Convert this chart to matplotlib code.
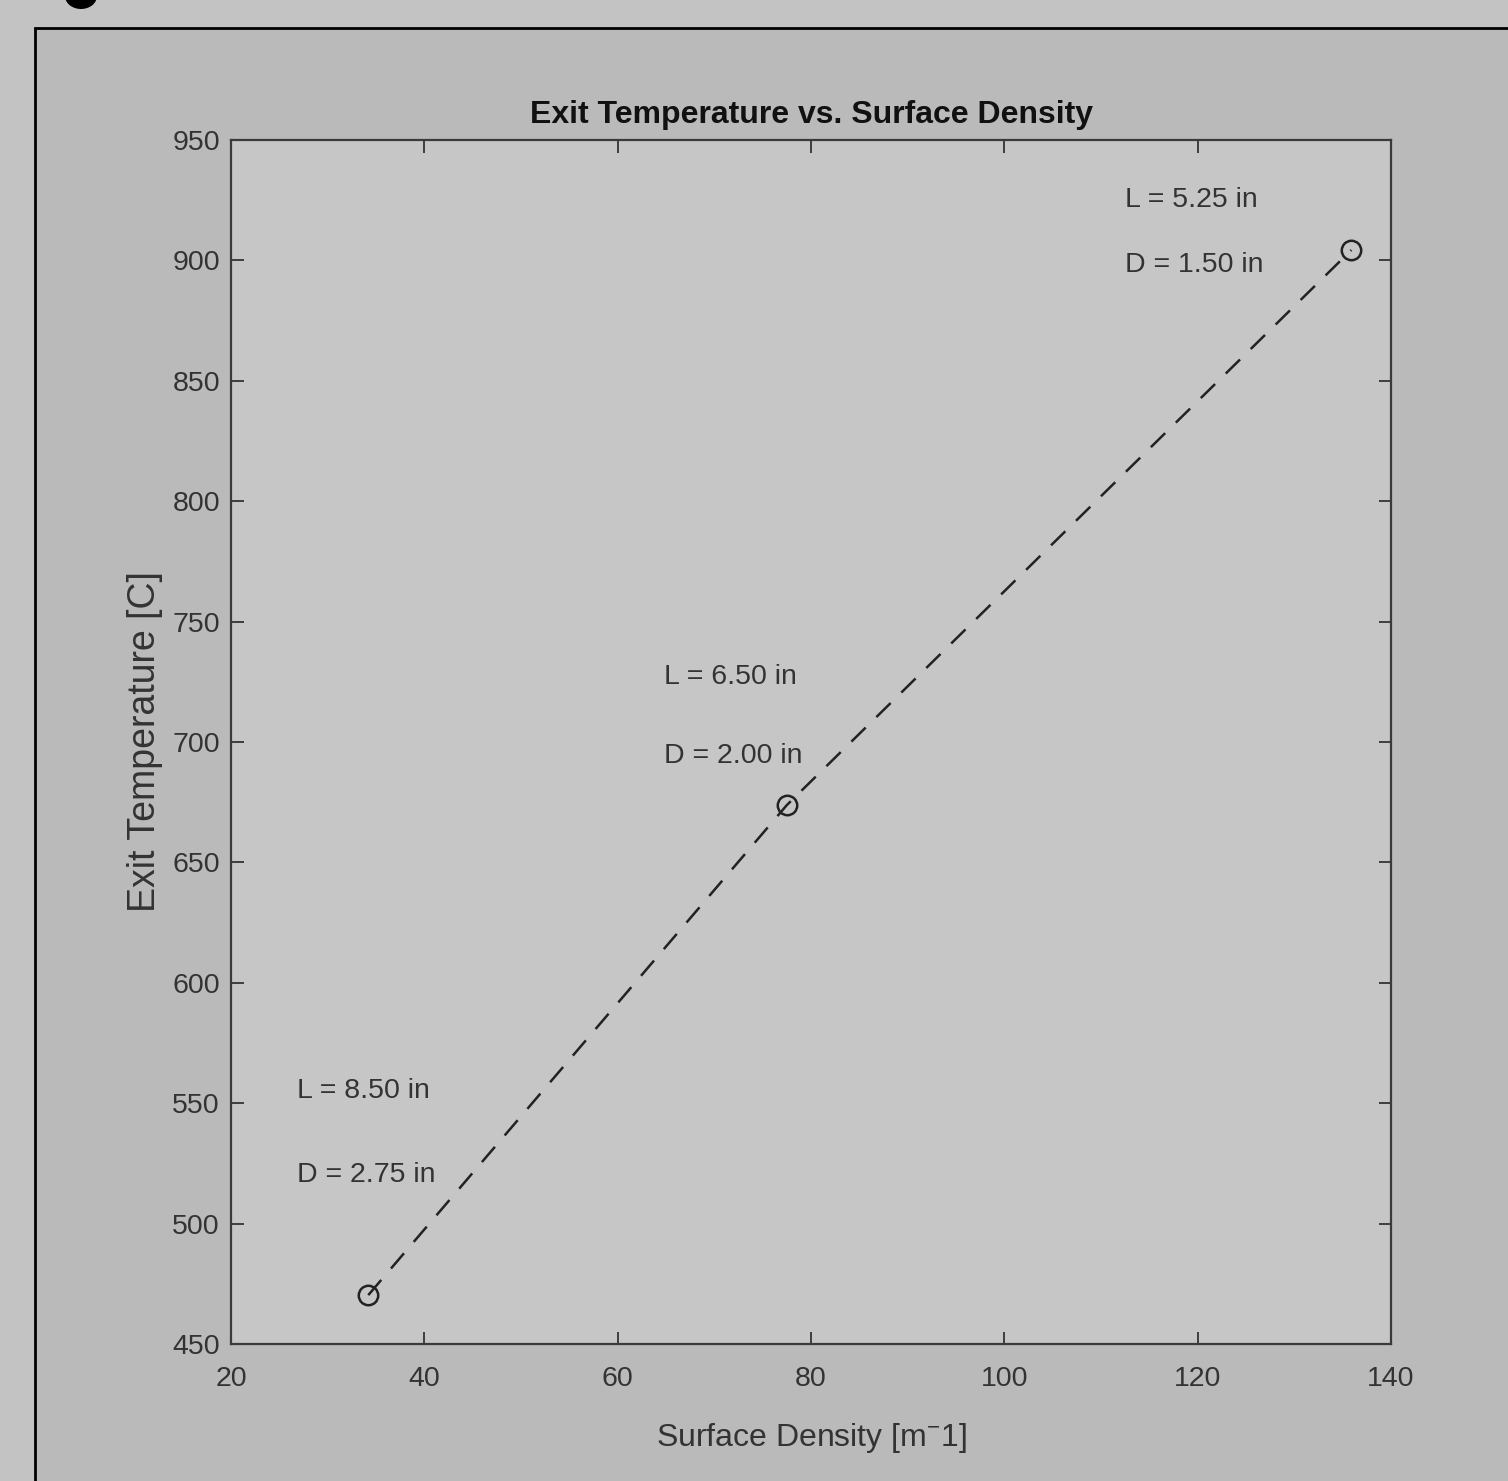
import matplotlib
matplotlib.use('Agg')
import matplotlib.pyplot as plt
from matplotlib import patches

# data
surface_density = [34.2, 77.5, 135.9]
exit_temp = [470.3, 673.8, 904.3]
lengths = ['L = 8.50 in', 'L = 6.50 in', 'L = 5.25 in']
diameters = ['D = 2.75 in', 'D = 2.00 in', 'D = 1.50 in']
label_x = [26.8, 64.8, 112.5]
label_y_L = [555, 727, 925]
label_y_D = [520, 694, 898]
xticks = [20, 40, 60, 80, 100, 120, 140]
yticks = [450, 500, 550, 600, 650, 700, 750, 800, 850, 900, 950]

plt.rcParams['font.family'] = ['Liberation Sans', 'DejaVu Sans']
plt.rcParams['mathtext.fontset'] = 'custom'
plt.rcParams['mathtext.rm'] = 'Liberation Sans'
plt.rcParams['mathtext.it'] = 'Liberation Sans'
txt = '#333333'

fig = plt.figure(figsize=(15.08, 14.81), dpi=100)
fig.patch.set_facecolor('#c3c3c3')

# dark frame of the pasted screenshot
W, H = 1508, 1481
frame = patches.Rectangle((35 / W, -0.02), 1.05, 1 - 28 / H + 0.02, transform=fig.transFigure,
                          facecolor='#bababa', edgecolor='black', lw=2, zorder=0)
fig.add_artist(frame)
blob = patches.Ellipse((81 / W, 1 + 4 / H), 32 / W, 26 / H, transform=fig.transFigure,
                       facecolor='black', edgecolor='none')
fig.add_artist(blob)

ax = fig.add_axes([231 / W, 1 - 1344 / H, (1391 - 231) / W, (1344 - 140) / H])
ax.set_facecolor('#c6c6c6')

ax.plot(surface_density, exit_temp, color='#222222', ls=(0, (8, 6)), lw=1.8,
        marker='o', ms=14, mfc='none', mec='#222222', mew=1.8)

for i in range(len(lengths)):
    ax.text(label_x[i], label_y_L[i], lengths[i], fontsize=20.5, color=txt, va='center')
    ax.text(label_x[i], label_y_D[i], diameters[i], fontsize=20.5, color=txt, va='center')

ax.set_xlim(20, 140)
ax.set_ylim(450, 950)
ax.set_xticks(xticks)
ax.set_yticks(yticks)
ax.tick_params(direction='in', length=9, width=1.3, top=True, right=True,
               labelsize=20.5, labelcolor=txt, color='#333333')
ax.tick_params(axis='x', pad=16)
ax.tick_params(axis='y', pad=8)
for s in ax.spines.values():
    s.set_color('#3a3a3a')
    s.set_linewidth(1.6)

ax.set_title('Exit Temperature vs. Surface Density', fontsize=23, fontweight='bold',
             color='#111111', pad=12)
ax.set_xlabel(r'Surface Density [m$^{\mathrm{-}}$1]', fontsize=23, color=txt, labelpad=21)
ax.set_ylabel('Exit Temperature [C]', fontsize=27, color=txt, labelpad=7)

fig.savefig('out.png', dpi=100, facecolor=fig.get_facecolor())
